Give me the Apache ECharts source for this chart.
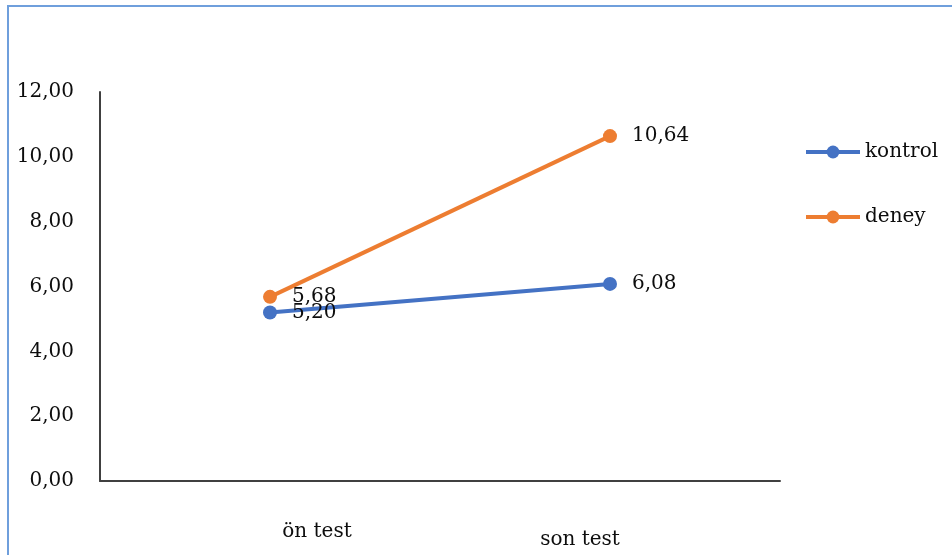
<!DOCTYPE html>
<html>
<head>
<meta charset="utf-8">
<script src="https://cdn.jsdelivr.net/npm/echarts@6/dist/echarts.min.js"></script>
<style>
html,body{margin:0;padding:0;background:#fff;}
#c{width:952px;height:555px;}
</style>
</head>
<body>
<div id="c"></div>
<script>
const categories = ['ön test', 'son test'];
const kontrol = [5.20, 6.08];
const deney = [5.68, 10.64];
const seriesNames = ['kontrol', 'deney'];
const yTicks = [0, 2, 4, 6, 8, 10, 12];

const FONT = 'DejaVu Serif';
const TXT = '#0d0d0d';
const fmt = v => Number(v).toFixed(2).replace('.', ',');

const chart = echarts.init(document.getElementById('c'), null, {renderer: 'canvas'});
chart.setOption({
  animation: false,
  backgroundColor: '#ffffff',
  graphic: [{
    type: 'rect',
    shape: {x: 8, y: 6, width: 980, height: 600},
    style: {fill: 'none', stroke: '#6f9fdc', lineWidth: 2},
    silent: true,
    z: -1
  }],
  grid: {left: 100, right: 172, top: 92, bottom: 74, containLabel: false},
  xAxis: {
    type: 'category',
    data: categories,
    boundaryGap: true,
    axisLine: {show: true, lineStyle: {color: '#404040', width: 2}},
    axisTick: {show: false},
    axisLabel: {
      margin: 40,
      interval: 0,
      fontFamily: FONT,
      fontSize: 20,
      color: TXT,
      formatter: (v, i) => i === 0 ? '{a|' + v + '}' : '{b|' + v + '}',
      rich: {
        a: {fontFamily: FONT, fontSize: 20, color: TXT, lineHeight: 22, padding: [0, 0, 0, 94]},
        b: {fontFamily: FONT, fontSize: 20, color: TXT, lineHeight: 22, padding: [16, 60, 0, 0]}
      }
    },
    splitLine: {show: false}
  },
  yAxis: {
    type: 'value',
    min: yTicks[0],
    max: yTicks[yTicks.length - 1],
    interval: 2,
    axisLine: {show: true, lineStyle: {color: '#404040', width: 2}},
    axisTick: {show: false},
    splitLine: {show: false},
    axisLabel: {
      margin: 26,
      fontFamily: FONT,
      fontSize: 20,
      color: TXT,
      formatter: v => fmt(v)
    }
  },
  legend: {
    orient: 'vertical',
    left: 799,
    top: 137,
    padding: 5,
    itemWidth: 54,
    itemHeight: 16,
    itemGap: 45,
    data: seriesNames,
    lineStyle: {width: 4},
    textStyle: {fontFamily: FONT, fontSize: 20, color: TXT, lineHeight: 20}
  },
  series: [
    {
      name: seriesNames[0],
      type: 'line',
      data: kontrol,
      symbol: 'circle',
      symbolSize: 14,
      lineStyle: {color: '#4472C4', width: 4},
      itemStyle: {color: '#4472C4'},
      label: {
        show: true, position: 'right', distance: 15,
        fontFamily: FONT, fontSize: 20, color: TXT,
        formatter: p => fmt(p.value)
      },
      z: 2
    },
    {
      name: seriesNames[1],
      type: 'line',
      data: deney,
      symbol: 'circle',
      symbolSize: 14,
      lineStyle: {color: '#ED7D31', width: 4},
      itemStyle: {color: '#ED7D31'},
      label: {
        show: true, position: 'right', distance: 15,
        fontFamily: FONT, fontSize: 20, color: TXT,
        formatter: p => fmt(p.value)
      },
      labelLayout: {hideOverlap: false},
      z: 3
    }
  ]
});
</script>
</body>
</html>
